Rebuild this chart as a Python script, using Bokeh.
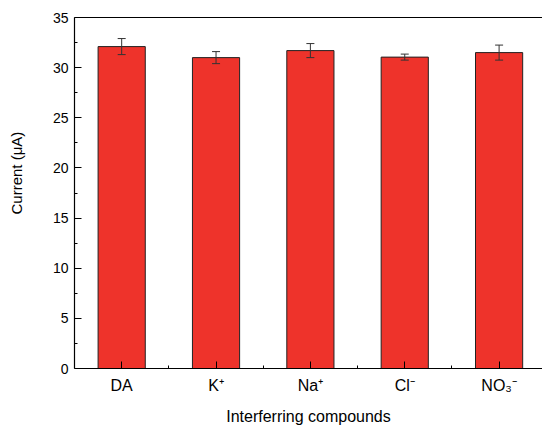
from bokeh.plotting import figure
from bokeh.models import ColumnDataSource, Whisker, FixedTicker, LinearAxis, TeeHead, Range1d, Title
from bokeh.embed import file_html
from bokeh.resources import INLINE

labels = ["DA", "K\u207a", "Na\u207a", "Cl\u207b", "NO\u2083\u207b"]
positions = [1, 2, 3, 4, 5]
current = [32.1, 31.0, 31.7, 31.05, 31.5]
error = [0.8, 0.6, 0.7, 0.3, 0.75]

upper = [c + e for c, e in zip(current, error)]
lower = [c - e for c, e in zip(current, error)]
src = ColumnDataSource(dict(x=positions, top=current, upper=upper, lower=lower))

p = figure(width=542, height=427, output_backend="svg", toolbar_location=None,
           x_range=Range1d(0.5, 5.46), y_range=Range1d(0, 35),
           min_border_left=74, min_border_top=17, min_border_bottom=58, min_border_right=0)
p.outline_line_color = None
p.grid.visible = False
p.background_fill_color = "white"
p.border_fill_color = "white"

p.vbar(x="x", top="top", width=0.5, bottom=0, source=src,
       fill_color="#EE332B", line_color="#222222", line_width=1)

w = Whisker(source=src, base="x", upper="upper", lower="lower",
            line_color="#333333", line_width=1, level="annotation",
            upper_head=TeeHead(size=8, line_color="#333333", line_width=1),
            lower_head=TeeHead(size=8, line_color="#333333", line_width=1))
p.add_layout(w)

font = "Liberation Sans"
xa = p.xaxis[0]
xa.ticker = FixedTicker(ticks=positions, minor_ticks=[1.5, 2.5, 3.5, 4.5])
xa.major_label_overrides = {pos: lab for pos, lab in zip(positions, labels)}
xa.axis_label = "Interferring compounds"
ya = p.yaxis[0]
ya.ticker = FixedTicker(ticks=[0, 5, 10, 15, 20, 25, 30, 35],
                        minor_ticks=[2.5, 7.5, 12.5, 17.5, 22.5, 27.5, 32.5])
ya.axis_label = "\u00a0"
for ax in (xa, ya):
    ax.major_tick_in = 7
    ax.major_tick_out = 0
    ax.minor_tick_in = 3
    ax.minor_tick_out = 0
    ax.axis_line_color = "black"
    ax.axis_line_width = 1.2
    ax.major_tick_line_color = "black"
    ax.minor_tick_line_color = "black"
    ax.major_label_text_font = font
    ax.major_label_text_color = "black"
    ax.axis_label_text_font = font
    ax.axis_label_text_font_style = "normal"
    ax.axis_label_text_color = "black"
ya.major_label_text_font_size = "14px"
ya.axis_label_text_font_size = "15px"
ya.axis_label_standoff = 5
xa.major_label_text_font_size = "16px"
xa.axis_label_text_font_size = "16px"
xa.major_label_standoff = 8
xa.axis_label_standoff = 11
ya.major_label_standoff = 6

ytitle = Title(text="Current (\u03bcA)", align="left", offset=154, standoff=0,
               text_font=font, text_font_size="15px", text_font_style="normal",
               text_color="black")
p.add_layout(ytitle, "left")

top = LinearAxis(ticker=FixedTicker(ticks=[]), major_label_text_font_size="0px",
                 axis_line_color="black", axis_line_width=1.2)
p.add_layout(top, "above")

open("out.html", "w").write(file_html(p, INLINE))
